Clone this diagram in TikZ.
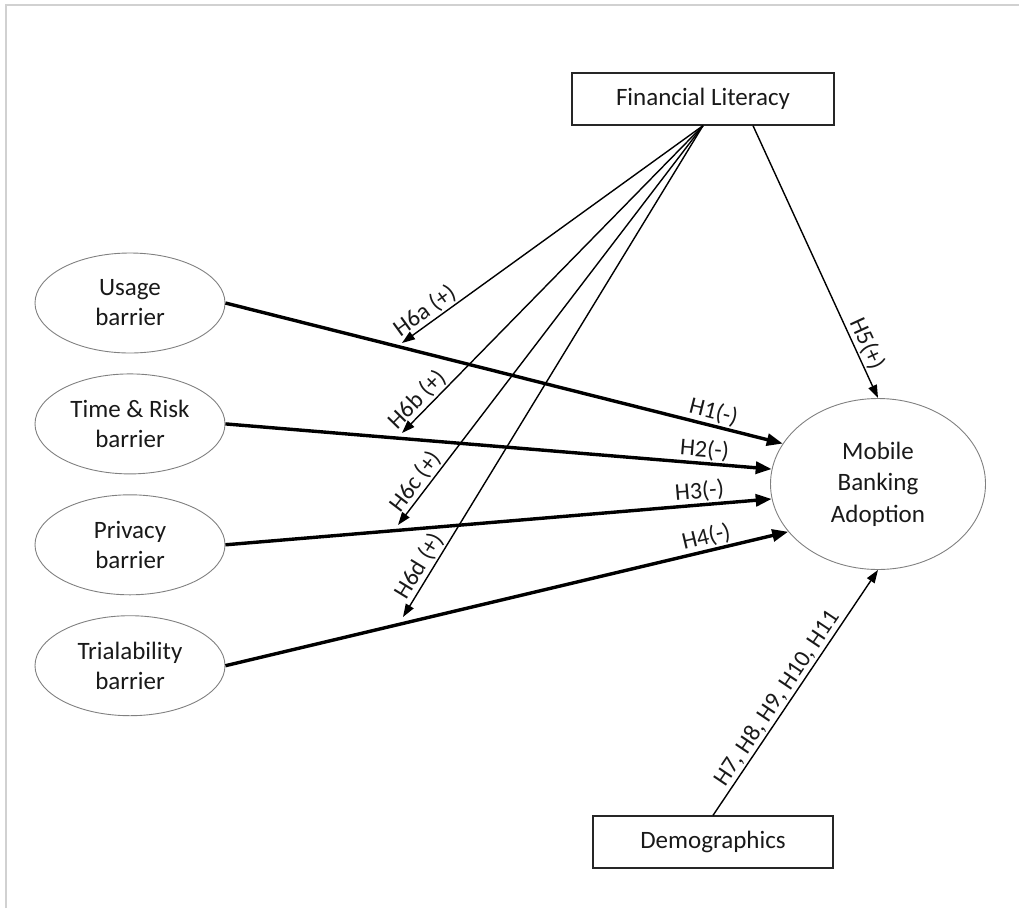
\documentclass[tikz,border=0pt]{standalone}
\usepackage{fontspec}
\setmainfont{Carlito}
\usepackage{xcolor}
\usepackage{tikz}
\usetikzlibrary{positioning, arrows.meta, shapes.geometric}

\begin{document}
\begin{tikzpicture}[x=1pt, y=-1pt,
    every node/.style={font=\fontsize{25}{30}\selectfont, align=center, text=black!90},
    barrier/.style={ellipse, draw=gray, line width=0.9pt, minimum width=190pt, minimum height=100pt, inner sep=0pt},
    factor/.style={rectangle, draw=black!85, line width=1.3pt, minimum height=52pt},
    thinarrow/.style={line width=1.4pt, -{Triangle[length=13pt, width=9pt]}},
    boldarrow/.style={line width=3.4pt, -{Triangle[length=16pt, width=12pt]}},
    hlabel/.style={font=\fontsize{24}{28}\selectfont, sloped, above, inner sep=1.5pt}]
    \useasboundingbox (0,0) rectangle (1019,908);
    \draw[black!18, line width=2pt] (6,908) -- (6,4.5) -- (1019,4.5);

    % constructs
    \node[factor, minimum width=262pt] (fl) at (703,99) {Financial Literacy};
    \node[barrier] (usage) at (130,303) {Usage\\barrier};
    \node[barrier, below=20pt of usage] (time) {Time \& Risk\\barrier};
    \node[barrier, below=20pt of time] (privacy) {Privacy\\barrier};
    \node[barrier, below=20pt of privacy] (trial) {Trialability\\barrier};
    \node[ellipse, draw=gray, line width=0.9pt, minimum width=215pt, minimum height=171pt, inner sep=0pt, font=\fontsize{25}{31.5}\selectfont] (mba) at (878,484) {Mobile\\Banking\\Adoption};
    \node[factor, minimum width=240pt] (demo) at (713,842) {Demographics};

    \coordinate (h6a) at (402,343);
    \coordinate (h6b) at (402,433);
    \coordinate (h6c) at (398,525);
    \coordinate (h6d) at (403,617);

    % moderating paths
    \draw[thinarrow] (fl.south) -- (h6a) node[hlabel, pos=0.9] {H6a (+)};
    \draw[thinarrow] (fl.south) -- (h6b) node[hlabel, pos=0.92] {H6b (+)};
    \draw[thinarrow] (fl.south) -- (h6c) node[hlabel, pos=0.91] {H6c (+)};
    \draw[thinarrow] (fl.south) -- (h6d) node[hlabel, pos=0.91] {H6d (+)};
    \draw[thinarrow] ([xshift=50pt]fl.south) -- (mba.north) node[hlabel, pos=0.82] {H5(+)};
    \draw[thinarrow] (demo.north) -- (mba.south) node[hlabel, pos=0.45] {H7, H8, H9, H10, H11};

    % direct paths
    \draw[boldarrow] (usage.east) -- (mba.157) node[hlabel, pos=0.87] {H1(-)};
    \draw[boldarrow] (time.east) -- (mba.172) node[hlabel, pos=0.875] {H2(-)};
    \draw[boldarrow] (privacy.east) -- (mba.188) node[hlabel, pos=0.87] {H3(-)};
    \draw[boldarrow] (trial.east) -- (mba.208) node[hlabel, pos=0.86] {H4(-)};
\end{tikzpicture}
\end{document}
